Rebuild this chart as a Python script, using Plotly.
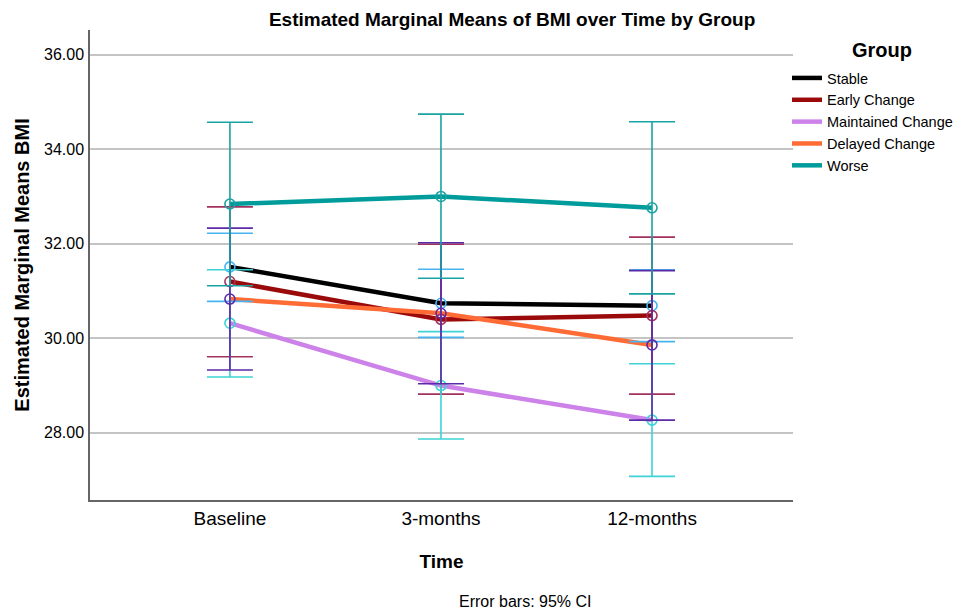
import plotly.graph_objects as go

# Estimated marginal means of BMI with 95% CI, by group and time point
time_points = ["Baseline", "3-months", "12-months"]
groups = ["Stable", "Early Change", "Maintained Change", "Delayed Change", "Worse"]

means = {
    "Stable":            [31.51, 30.74, 30.69],
    "Early Change":      [31.20, 30.40, 30.48],
    "Maintained Change": [30.32, 29.00, 28.27],
    "Delayed Change":    [30.83, 30.53, 29.86],
    "Worse":             [32.84, 33.00, 32.76],
}
ci_upper = {
    "Stable":            [32.22, 31.46, 31.45],
    "Early Change":      [32.78, 31.99, 32.14],
    "Maintained Change": [31.45, 30.14, 29.46],
    "Delayed Change":    [32.33, 32.02, 31.43],
    "Worse":             [34.57, 34.74, 34.58],
}
ci_lower = {
    "Stable":            [30.78, 30.02, 29.93],
    "Early Change":      [29.61, 28.82, 28.82],
    "Maintained Change": [29.18, 27.87, 27.08],
    "Delayed Change":    [29.33, 29.04, 28.27],
    "Worse":             [31.11, 31.27, 30.94],
}

y_ticks = [28, 30, 32, 34, 36]

line_colors = {
    "Stable": "#000000",
    "Early Change": "#9a0a0a",
    "Maintained Change": "#cc82e8",
    "Delayed Change": "#ff6b35",
    "Worse": "#009b9b",
}
bar_colors = {
    "Stable": "#46b4f0",
    "Early Change": "#a3325f",
    "Maintained Change": "#3dd3d6",
    "Delayed Change": "#5b2aa6",
    "Worse": "#1aa3a3",
}

FONT = "Liberation Sans, Arial, sans-serif"

fig = go.Figure()

# Mean profile lines (shown in legend)
for g in groups:
    fig.add_trace(go.Scatter(
        x=time_points, y=means[g], mode="lines", name=g,
        line=dict(color=line_colors[g], width=4.5),
        showlegend=True,
    ))

# Open-circle means with 95% CI error bars
for g in groups:
    up = [u - m for u, m in zip(ci_upper[g], means[g])]
    lo = [m - l for m, l in zip(means[g], ci_lower[g])]
    fig.add_trace(go.Scatter(
        x=time_points, y=means[g], mode="markers", name=g,
        marker=dict(symbol="circle-open", size=10,
                    color=bar_colors[g], line=dict(width=1.6, color=bar_colors[g])),
        error_y=dict(type="data", symmetric=False, array=up, arrayminus=lo,
                     color=bar_colors[g], thickness=1.6, width=23),
        showlegend=False, hoverinfo="skip",
    ))

fig.update_layout(
    width=968, height=613,
    margin=dict(l=90, r=175, t=30, b=113, autoexpand=False),
    paper_bgcolor="white", plot_bgcolor="white",
    font=dict(family=FONT, color="#000000"),
    title=dict(text="<b>Estimated Marginal Means of BMI over Time by Group</b>",
               x=0.529, xanchor="center", y=1 - 19 / 613, yanchor="middle",
               font=dict(size=19, family=FONT)),
    legend=dict(
        x=(787 - 90) / 703, xanchor="left", y=(500 - 62) / 470, yanchor="top",
        font=dict(size=14.5, family=FONT),
        bgcolor="rgba(0,0,0,0)", borderwidth=0,
    ),
    showlegend=True,
)

# Legend heading
fig.add_annotation(
    text="<b>Group</b>", xref="paper", yref="paper",
    x=(882 - 90) / 703, y=(500 - 50) / 470, xanchor="center", yanchor="middle",
    showarrow=False, font=dict(size=20, family=FONT),
)

fig.update_xaxes(
    type="category", categoryorder="array", categoryarray=time_points,
    range=[-0.663, 2.668],
    showgrid=False, zeroline=False,
    showline=True, linecolor="#666666", linewidth=1.5,
    ticks="", tickfont=dict(size=19, family=FONT),
    title=dict(text="<b>Time</b>", font=dict(size=19, family=FONT), standoff=27),
)
fig.update_yaxes(
    range=[26.58, 36.52],
    tickvals=y_ticks, tickformat=".2f",
    showgrid=True, gridcolor="#c4c4c4", gridwidth=1.5,
    zeroline=False,
    showline=True, linecolor="#666666", linewidth=1.5,
    ticks="", tickfont=dict(size=16, family=FONT),
    ticklabelstandoff=1,
    title=dict(text="<b>Estimated Marginal Means BMI</b>", font=dict(size=20, family=FONT), standoff=9),
)

fig.add_annotation(
    text="Error bars: 95% CI", xref="paper", yref="paper",
    x=(525 - 90) / 703, y=(500 - 601) / 470, xanchor="center", yanchor="middle",
    showarrow=False, font=dict(size=16, family=FONT),
)

fig.write_html("out.html")
